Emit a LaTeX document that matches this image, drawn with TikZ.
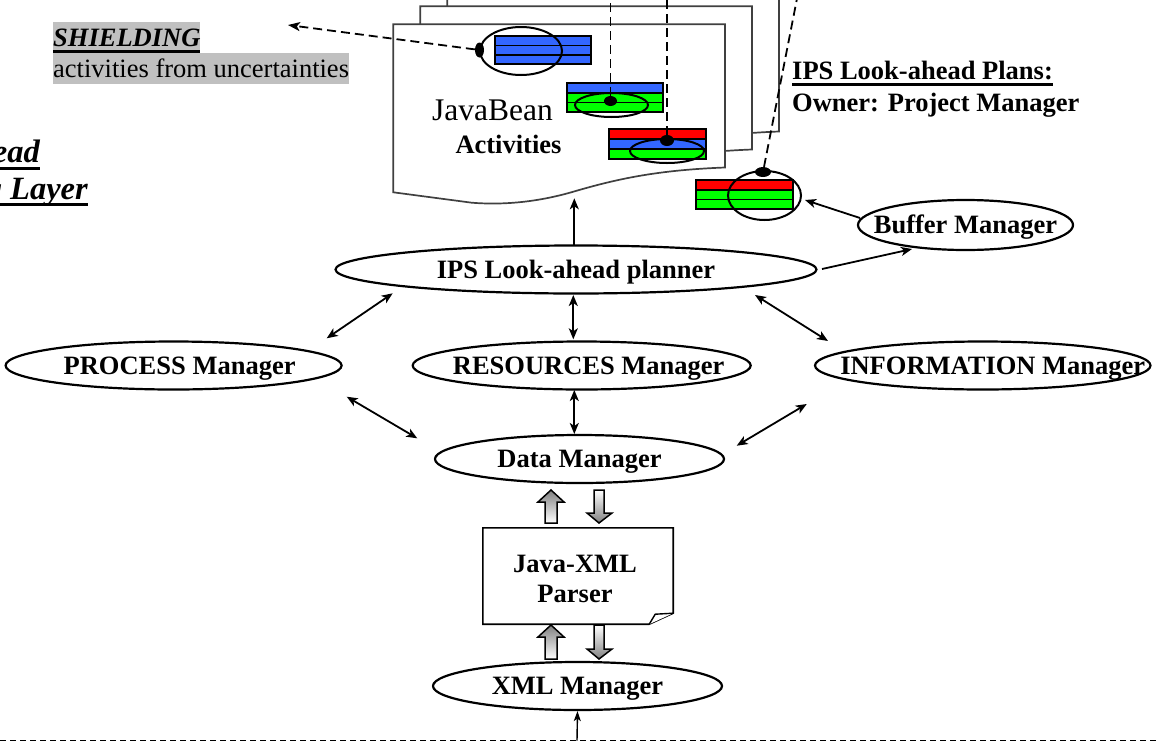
\documentclass[tikz,border=0pt]{standalone}
\usepackage{fontspec}
\setmainfont{Liberation Serif}
\usetikzlibrary{shapes.geometric,arrows.meta}
\definecolor{barblue}{RGB}{51,102,255}
\definecolor{bargreen}{RGB}{0,255,0}
\definecolor{barred}{RGB}{255,0,0}
\definecolor{hilite}{RGB}{192,192,192}
\definecolor{pageline}{RGB}{64,64,64}
\definecolor{arrowgray}{RGB}{128,128,128}
\newcommand{\ulbox}[2][5pt]{\setbox0\hbox{#2}\rlap{\rule[-#1]{\wd0}{3pt}}\box0}
\begin{document}
\begin{tikzpicture}[x=1pt,y=-1pt,
  lbl/.style={font=\fontsize{26.5pt}{30pt}\selectfont\bfseries, inner sep=0pt},
  mgr/.style={ellipse, draw, line width=2.2pt, inner sep=0pt, minimum width=337pt, minimum height=48pt, text height=17.5pt, text depth=0pt, font=\fontsize{26.5pt}{30pt}\selectfont\bfseries},
  conn/.style={line width=1.8pt, {Stealth[length=11pt,width=9pt,inset=3pt]}-{Stealth[length=11pt,width=9pt,inset=3pt]}},
  oneway/.style={line width=1.8pt, -{Stealth[length=11pt,width=9pt,inset=3pt]}},
  dline/.style={line width=1.8pt, dash pattern=on 9pt off 5pt},
  pagesheet/.style={draw=pageline, line width=1.7pt, fill=white},
  bar/.style={draw=black, line width=1.6pt},
  ring/.style={ellipse, draw, line width=2pt, inner sep=0pt},
  blob/.style={ellipse, fill=black, inner sep=0pt},
  blockup/.style={draw=black, line width=1.5pt, top color=arrowgray, bottom color=white},
  blockdown/.style={draw=black, line width=1.5pt, top color=white, bottom color=arrowgray}
]
\useasboundingbox (0,0) rectangle (1159,742);

% stacked plan pages
\foreach \s in {2,1,0} {
  \draw[pagesheet, shift={(27*\s,-18*\s)}] (393.3,24.3) -- (725,24.3) -- (725,167.5)
    .. controls (660,170) and (620,178) .. (574,191.5)
    .. controls (535,203) and (500,205) .. (471.7,202.7) -- (393.3,192.3) -- cycle;
}

% activity bars
\draw[bar, fill=barblue] (495,36) rectangle (591,45.3);
\draw[bar, fill=barblue] (495,45.3) rectangle (591,54.7);
\draw[bar, fill=barblue] (495,54.7) rectangle (591,64);

\draw[bar, fill=barblue] (567,83) rectangle (663,92.7);
\draw[bar, fill=bargreen] (567,92.7) rectangle (663,102.3);
\draw[bar, fill=bargreen] (567,102.3) rectangle (663,112);

\draw[bar, fill=barred] (609,129) rectangle (706,139);
\draw[bar, fill=barblue] (609,139) rectangle (706,149);
\draw[bar, fill=bargreen] (609,149) rectangle (706,159);

\draw[bar, fill=barred] (696,180) rectangle (793,189.7);
\draw[bar, fill=bargreen] (696,189.7) rectangle (793,199.3);
\draw[bar, fill=bargreen] (696,199.3) rectangle (793,209);

% rings and dots
\node[ring, minimum width=82pt, minimum height=48pt] (e1) at (521,51) {};
\node[ring, minimum width=73pt, minimum height=24pt] (e2) at (611.5,105) {};
\node[ring, minimum width=74pt, minimum height=24pt] (e3) at (667,151) {};
\node[ring, minimum width=73pt, minimum height=49pt] (e4) at (764.5,195.5) {};

\node[blob, minimum width=9pt, minimum height=15pt] (d1) at (479.5,50) {};
\node[blob, minimum width=13pt, minimum height=10pt] (d2) at (610.5,101) {};
\node[blob, minimum width=14pt, minimum height=11pt] (d3) at (667,140.5) {};
\node[blob, minimum width=16pt, minimum height=10pt] (d4) at (763,172) {};

\coordinate (shieldtip) at (288,25);
\coordinate (up2) at (610.5,-4);
\coordinate (up3) at (667,-4);
\coordinate (up4) at (797.5,-4);
\draw[dline, -{Stealth[length=12pt,width=9pt,inset=3pt]}] (d1) -- (shieldtip);
\draw[dline] (d2) -- (up2);
\draw[dline] (d3) -- (up3);
\draw[dline] (d4) -- (up4);

% texts
\node[anchor=base west, inner xsep=0pt, inner ysep=0pt, text height=24.5pt, text depth=6.5pt, fill=hilite, font=\fontsize{26.5pt}{30pt}\selectfont\bfseries\itshape] (shield) at (53,46) {\ulbox[6.5pt]{SHIELDING}};
\node[anchor=base west, inner sep=0pt, text height=24.5pt, text depth=6.5pt, fill=hilite, font=\fontsize{26.5pt}{30pt}\selectfont] (uncert) at (53,77) {activities from uncertainties};
\node[lbl, anchor=base west] (plans) at (792,79.5) {\ulbox[6.7pt]{IPS Look-ahead Plans:}};
\node[lbl, anchor=base west] (owner) at (792,111.5) {Owner: Project Manager};
\node[anchor=base east, inner sep=0pt, font=\fontsize{32.5pt}{36pt}\selectfont\bfseries\itshape] (lay1) at (40,162.7) {\ulbox[7.3pt]{ead}};
\node[anchor=base east, inner sep=0pt, font=\fontsize{32.5pt}{36pt}\selectfont\bfseries\itshape] (lay2) at (88,199) {\ulbox[7pt]{g Layer}};
\node[anchor=base, inner sep=0pt, font=\fontsize{31.5pt}{36pt}\selectfont] (jb) at (492.5,120) {JavaBean};
\node[lbl, anchor=base] (act) at (508.5,153) {Activities};

% managers
\node[mgr, minimum width=481pt] (ips) at (576,269.5) {\makebox[0pt]{IPS Look-ahead planner}};
\node[mgr, minimum width=215pt, minimum height=50pt] (buf) at (965.5,225) {\makebox[0pt]{Buffer Manager}};
\node[mgr, minimum width=336pt] (proc) at (173.6,365.5) {\makebox[0pt]{\hspace{12pt}PROCESS Manager}};
\node[mgr, minimum width=338pt] (res) at (581.7,365.5) {\makebox[0pt]{\hspace{14pt}RESOURCES Manager}};
\node[mgr, minimum width=335.5pt] (info) at (982.75,365.5) {\makebox[0pt]{\hspace{20pt}INFORMATION Manager}};
\node[mgr, minimum width=289pt] (data) at (579.5,459) {\makebox[0pt]{Data Manager}};
\node[mgr, minimum width=289pt] (xml) at (577.5,686) {\makebox[0pt]{XML Manager}};

% parser document
\node[minimum width=190pt, minimum height=96pt, inner sep=0pt] (parser) at (578,576) {};
\draw[line width=1.6pt, fill=white] (parser.north west) -- (parser.north east) -- ([yshift=11pt]parser.south east) -- ([xshift=-24pt]parser.south east) -- (parser.south west) -- cycle;
\draw[line width=1.4pt, fill=white] ([xshift=-24pt]parser.south east) -- ([xshift=-18pt,yshift=10pt]parser.south east) -- ([yshift=11pt]parser.south east);
\node[lbl, align=center] (ptext) at (575,579) {Java-XML\\Parser};

% block arrows
\draw[blockup] (545,523) -- (545,502) -- (538,502) -- (551,490) -- (564,502) -- (557,502) -- (557,523) -- cycle;
\draw[blockdown] (594,490) -- (604,490) -- (604,513) -- (612,513) -- (599,523) -- (587,513) -- (594,513) -- cycle;
\draw[blockup] (545,659) -- (545,637) -- (538,637) -- (551,625) -- (564,637) -- (557,637) -- (557,659) -- cycle;
\draw[blockdown] (594,625) -- (604,625) -- (604,649) -- (612,649) -- (599,659) -- (587,649) -- (594,649) -- cycle;

% connectors
\draw[conn] ([shift={(-183.3,23.8)}]ips.center) -- ([shift={(153.1,-27.2)}]proc.center);
\draw[conn] ([shift={(-2.7,25.5)}]ips.center) -- ([shift={(-8.4,-26.2)}]res.center);
\draw[conn] ([shift={(179,25.5)}]ips.center) -- ([shift={(-154.75,-24.5)}]info.center);
\draw[conn] ([shift={(173.1,31.2)}]proc.center) -- ([shift={(-162.2,-20.7)}]data.center);
\draw[conn] ([shift={(-7.4,24.5)}]res.center) -- ([shift={(-5.2,-25)}]data.center);
\draw[conn] ([shift={(-176,38.5)}]info.center) -- ([shift={(157.2,-13.3)}]data.center);
\draw[oneway] ([shift={(246,-0.5)}]ips.center) -- ([shift={(-53.5,24)}]buf.center);
\draw[oneway] ([shift={(-105.5,-7)}]buf.center) -- ([shift={(40.5,4.5)}]e4.center);
\coordinate (docbase) at (574.3,198.3);
\draw[oneway] ([shift={(-1.7,-24)}]ips.center) -- (docbase);

% layer boundary
\coordinate (bl) at (0,740.5);
\coordinate (br) at (1159,740.5);
\coordinate (layerin) at (577,740.5);
\draw[line width=1.2pt, dash pattern=on 6pt off 4pt] (bl) -- (br);
\draw[line width=1.4pt, -{Stealth[length=10pt,width=7pt,inset=2.5pt]}] (layerin) -- (xml.south);
\end{tikzpicture}
\end{document}
